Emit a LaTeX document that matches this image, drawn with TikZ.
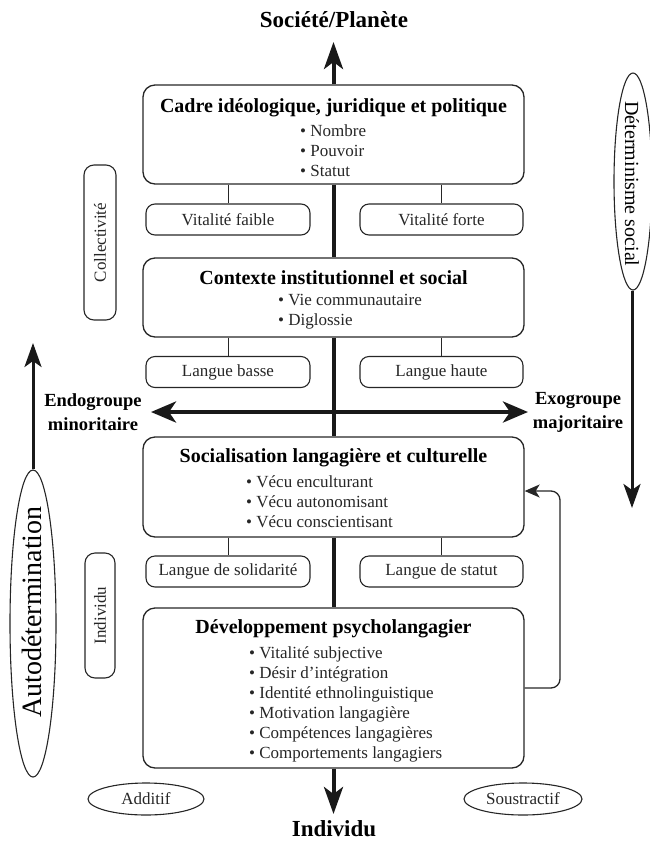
\documentclass[tikz,border=0pt]{standalone}
\usepackage{fontspec}
\setmainfont{Liberation Serif}
\usetikzlibrary{arrows.meta,shapes.geometric}
\begin{document}
\begin{tikzpicture}[x=1pt,y=-1pt,
  bigbox/.style={draw=black!85, line width=1.3pt, rounded corners=12pt, minimum width=381pt, inner sep=0pt},
  smallbox/.style={draw=black!85, line width=1.1pt, rounded corners=9pt, minimum width=164pt, minimum height=31pt, inner sep=0pt, font=\fontsize{17}{20}\selectfont, text=black!85},
  sidebox/.style={draw=black!85, line width=1.1pt, rounded corners=10pt, inner sep=0pt, font=\fontsize{17}{20}\selectfont, text=black!85},
  oval/.style={ellipse, draw=black!85, line width=1.1pt, inner sep=0pt},
  boxtitle/.style={font=\fontsize{20}{24}\selectfont\bfseries, inner sep=0pt},
  item/.style={font=\fontsize{17}{20}\selectfont, text=black!85, inner sep=0pt, anchor=base west},
  endlabel/.style={font=\fontsize{23}{27}\selectfont\bfseries, inner sep=0pt},
  grouplabel/.style={font=\fontsize{18.5}{24}\selectfont\bfseries, align=center, inner sep=0pt},
  mainline/.style={line width=4pt, draw=black!90},
  mainarrow/.style={line width=4pt, draw=black!90, -{Stealth[length=27pt,width=19pt,inset=7pt]}},
  dblarrow/.style={line width=4pt, draw=black!90, {Stealth[length=25pt,width=21pt,inset=7pt]}-{Stealth[length=25pt,width=21pt,inset=7pt]}},
  sidearrow/.style={line width=3pt, draw=black!90, -{Stealth[length=24pt,width=17pt,inset=6pt]}},
  thinline/.style={line width=1pt, draw=black!85},
  fbarrow/.style={line width=1.3pt, draw=black!85, rounded corners=9pt, -{Stealth[length=15pt,width=13pt,inset=4pt]}}
]
\useasboundingbox (0,0) rectangle (649,847);

% big boxes
\node[bigbox, minimum height=99pt] (b1) at (333.5,134.5) {};
\node[bigbox, minimum height=79pt] (b2) at (333.5,297.5) {};
\node[bigbox, minimum height=100pt] (b3) at (333.5,487) {};
\node[bigbox, minimum height=160pt] (b4) at (333.5,688) {};

% titles
\node[boxtitle] (t1) at (333.5,108) {Cadre idéologique, juridique et politique};
\node[boxtitle] (t2) at (333.5,278) {Contexte institutionnel et social};
\node[boxtitle] (t3) at (333.5,458) {Socialisation langagière et culturelle};
\node[boxtitle] (t4) at (333.5,629) {Développement psycholangagier};

% items
\foreach \t [count=\k] in {Nombre,Pouvoir,Statut}
  \node[item] (i1-\k) at (300,{136+(\k-1)*20}) {\textbullet\ \t};
\foreach \t [count=\k] in {Vie communautaire,Diglossie}
  \node[item] (i2-\k) at (278,{305+(\k-1)*20}) {\textbullet\ \t};
\foreach \t [count=\k] in {Vécu enculturant,Vécu autonomisant,Vécu conscientisant}
  \node[item] (i3-\k) at (246,{487+(\k-1)*20}) {\textbullet\ \t};
\foreach \t [count=\k] in {Vitalité subjective,Désir d’intégration,Identité ethnolinguistique,Motivation langagière,Compétences langagières,Comportements langagiers}
  \node[item] (i4-\k) at (249,{658+(\k-1)*20}) {\textbullet\ \t};

% small boxes
\node[smallbox] (vf) at (228,219.5) {Vitalité faible};
\node[smallbox, minimum width=163pt] (vF) at (441.5,219.5) {Vitalité forte};
\node[smallbox] (lb) at (228,372) {Langue basse};
\node[smallbox, minimum width=163pt] (lh) at (441.5,372) {Langue haute};
\node[smallbox] (ls) at (228,571.5) {Langue de solidarité};
\node[smallbox, minimum width=163pt] (lst) at (441.5,571.5) {Langue de statut};

\draw[thinline] (b1.south -| vf.north) -- (vf.north);
\draw[thinline] (b1.south -| vF.north) -- (vF.north);
\draw[thinline] (b2.south -| lb.north) -- (lb.north);
\draw[thinline] (b2.south -| lh.north) -- (lh.north);
\draw[thinline] (b3.south -| ls.north) -- (ls.north);
\draw[thinline] (b3.south -| lst.north) -- (lst.north);

% main axis
\node[endlabel] (soc) at (334,20) {Société/Planète};
\node[endlabel] (ind) at (334,829) {Individu};
\coordinate (toptip) at (333.5,42);
\coordinate (bottip) at (333.5,814);
\draw[mainarrow] (b1.north) -- (toptip);
\draw[mainline] (b1.south) -- (b2.north);
\draw[mainline] (b2.south) -- (b3.north);
\draw[mainline] (b3.south) -- (b4.north);
\draw[mainarrow] (b4.south) -- (bottip);

% horizontal axis
\coordinate (endL) at (151,412);
\coordinate (endR) at (528,412);
\draw[dblarrow] (endL) -- (endR);
\node[grouplabel] (endo) at (93,412) {Endogroupe\\minoritaire};
\node[grouplabel] (exo) at (578,412) {Exogroupe\\majoritaire};

% side boxes
\node[sidebox, rotate=90, minimum width=155pt, minimum height=32pt] (coll) at (100,242.5) {Collectivité};
\node[sidebox, rotate=90, minimum width=125pt, minimum height=30pt] (indiv) at (100,615.5) {Individu};

% feedback arrow
\coordinate (fbx) at (560,0);
\draw[fbarrow] (b4.east) -- (b4.east -| fbx) -- ([yshift=-4pt]b3.east -| fbx) -- ([yshift=-4pt]b3.east);

% autodetermination
\node[oval, minimum width=46pt, minimum height=307pt] (autoell) at (33,623.5) {};
\node[rotate=90, font=\fontsize{28}{32}\selectfont, inner sep=0pt] (autotxt) at (32,612) {Autodétermination};
\coordinate (autotip) at (33,343);
\draw[sidearrow] (autoell.north) -- (autotip);

% determinisme
\node[oval, minimum width=38pt, minimum height=217pt] (detell) at (633,181.5) {};
\node[rotate=-90, font=\fontsize{20}{24}\selectfont, inner sep=0pt] (dettxt) at (632,184) {Déterminisme social};
\coordinate (dettip) at (632,508);
\draw[sidearrow] (detell.south -| dettip) -- (dettip);

% additif / soustractif
\node[oval, minimum width=116pt, minimum height=32pt, font=\fontsize{17}{20}\selectfont, text=black!85] (add) at (146,799) {Additif};
\node[oval, minimum width=118pt, minimum height=32pt, font=\fontsize{17}{20}\selectfont, text=black!85] (sous) at (523,799) {Soustractif};
\end{tikzpicture}
\end{document}
